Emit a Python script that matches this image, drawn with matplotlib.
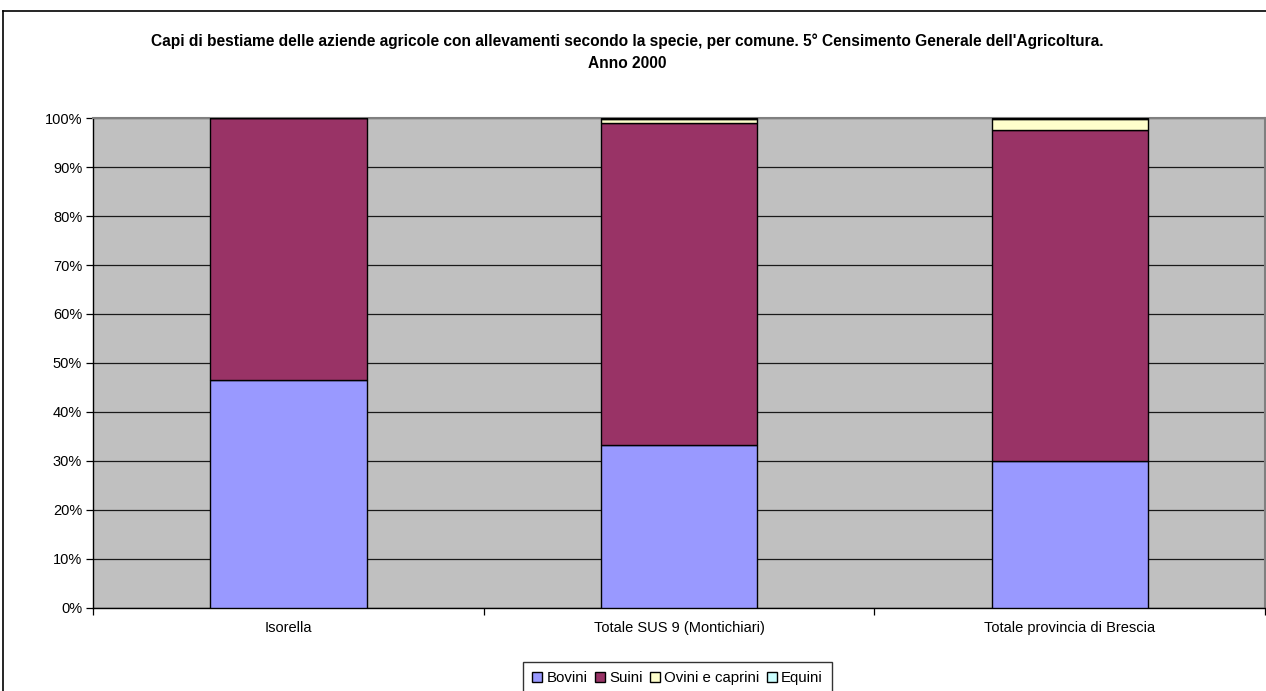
import matplotlib
matplotlib.use("Agg")
import matplotlib.pyplot as plt
from matplotlib.lines import Line2D
import numpy as np

plt.rcParams['font.family'] = ['Liberation Sans', 'DejaVu Sans']

categories = ["Isorella", "Totale SUS 9 (Montichiari)", "Totale provincia di Brescia"]
series_names = ["Bovini", "Suini", "Ovini e caprini", "Equini"]
bovini = [46.6, 33.2, 29.9]
suini = [53.4, 65.8, 67.7]
ovini_caprini = [0.0, 0.9, 2.2]
equini = [0.0, 0.1, 0.2]
colors = ["#9999FF", "#993366", "#FFFFCC", "#CCFFFF"]

title = ("Capi di bestiame delle aziende agricole con allevamenti secondo la specie, per comune. "
         "5° Censimento Generale dell'Agricoltura.\nAnno 2000")

W, H = 1266, 691
fig = plt.figure(figsize=(W / 100, H / 100), dpi=100)
fig.patch.set_facecolor("white")

# outer chart frame
fig.add_artist(Line2D([3 / W, 3 / W], [0, 1 - 11 / H], color="black", lw=1.2, transform=fig.transFigure))
fig.add_artist(Line2D([3 / W, 1], [1 - 11 / H, 1 - 11 / H], color="black", lw=1.2, transform=fig.transFigure))

left, right = 93.3 / W, 1265 / W
bottom, top = 1 - 607.5 / H, 1 - 118.3 / H
ax = fig.add_axes([left, bottom, right - left, top - bottom])
ax.set_facecolor("#C0C0C0")

x = np.arange(len(categories))
series = [bovini, suini, ovini_caprini, equini]
base = np.zeros(len(categories))
handles = []
for name, vals, col in zip(series_names, series, colors):
    vals = np.array(vals, dtype=float)
    b = ax.bar(x, vals, width=0.4, bottom=base, color=col, edgecolor="black",
               linewidth=1.0, label=name, zorder=3)
    handles.append(b)
    base += vals

ax.set_xlim(-0.5, len(categories) - 0.5)
ax.set_ylim(0, 100)
ax.set_yticks(np.arange(0, 101, 10))
ax.set_yticklabels([f"{v}%" for v in range(0, 101, 10)], fontsize=10.5)
ax.yaxis.grid(True, color="#1a1a1a", linewidth=0.9, zorder=1)
ax.set_axisbelow(True)

ax.set_xticks(x)
ax.set_xticklabels(categories, fontsize=10.5)
ax.tick_params(axis="x", length=0, pad=10)
ax.set_xticks(np.arange(-0.5, len(categories), 1.0), minor=True)
ax.tick_params(axis="x", which="minor", length=5, width=0.9, color="black", direction="out")
ax.tick_params(axis="y", length=5, width=0.9, color="black", direction="out", pad=3)

for s in ["top", "right"]:
    ax.spines[s].set_color("#808080")
    ax.spines[s].set_linewidth(1.5)
for s in ["left", "bottom"]:
    ax.spines[s].set_color("black")
    ax.spines[s].set_linewidth(1.0)

fig.text(0.5 * (left + right) - 52 / W, 1 - 52 / H, title, ha="center", va="center",
         fontsize=11.2, fontweight="bold", linespacing=1.55)

leg = fig.legend(handles=handles, labels=series_names, loc="upper center",
                 bbox_to_anchor=(677.5 / W, 1 - 662 / H), ncol=4, fontsize=10.8,
                 frameon=True, fancybox=False, edgecolor="black", handlelength=0.65,
                 handleheight=0.65, handletextpad=0.3, columnspacing=0.5,
                 borderpad=0.6, borderaxespad=0)
leg.get_frame().set_linewidth(1.0)

fig.savefig("out.png", dpi=100, facecolor="white")
